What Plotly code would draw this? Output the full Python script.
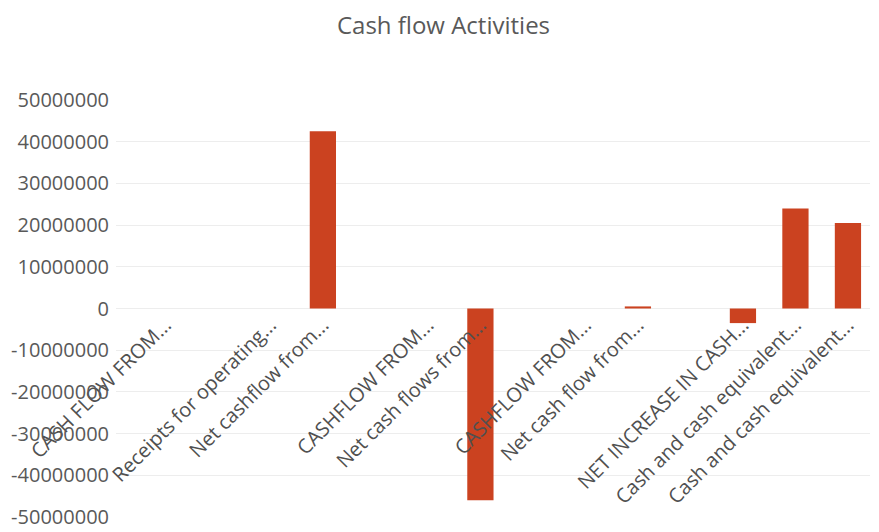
import plotly.graph_objects as go

categories = [
    "CASH FLOW FROM...", "", "Receipts for operating...", "Net cashflow from...", "",
    "CASHFLOW FROM...", "Net cash flows from...", "", "CASHFLOW FROM...",
    "Net cash flow from...", "", "NET INCREASE IN CASH...",
    "Cash and cash equivalent...", "Cash and cash equivalent...",
]
values = [0, 0, 0, 42500000, 0, 0, -46000000, 0, 0, 500000, 0, -3500000, 24000000, 20500000]

ytick_vals = [50000000, 40000000, 30000000, 20000000, 10000000, 0,
              -10000000, -20000000, -30000000, -40000000, -50000000]
ytick_text = ["50000000", "40000000", "30000000", "20000000", "10000000", "0",
              "-10000000", "-20000000", "-30000000", "-40000000", "-50000000"]

x_idx = list(range(len(categories)))

fig = go.Figure()
fig.add_trace(go.Bar(
    x=x_idx, y=values, width=0.5,
    marker=dict(color="#CB4220", line=dict(color="#A33419", width=0)),
    showlegend=False,
))

fig.update_layout(
    width=871, height=524,
    paper_bgcolor="white", plot_bgcolor="white",
    margin=dict(l=108, r=9, t=92, b=15, autoexpand=False),
    title=dict(text="Cash flow Activities", x=0.5, xanchor="center", y=0.966, yanchor="middle",
               font=dict(family="Open Sans", size=24, color="#595959")),
)
fig.update_xaxes(
    range=[-0.94, 13.42],
    tickmode="array", tickvals=x_idx, ticktext=categories,
    tickangle=-45, anchor="free", position=0.5,
    showline=False, showgrid=False, zeroline=False, ticks="",
    tickfont=dict(family="Open Sans", size=20, color="#505050"),
    automargin=False,
)
fig.update_yaxes(
    range=[-50000000, 50000000],
    tickmode="array", tickvals=ytick_vals, ticktext=ytick_text,
    showgrid=True, gridcolor="#ededed", gridwidth=1, zeroline=False,
    showline=False, ticks="", ticklabelstandoff=6,
    tickfont=dict(family="Open Sans", size=20, color="#595959"),
    automargin=False,
)

fig.write_html("out.html")
